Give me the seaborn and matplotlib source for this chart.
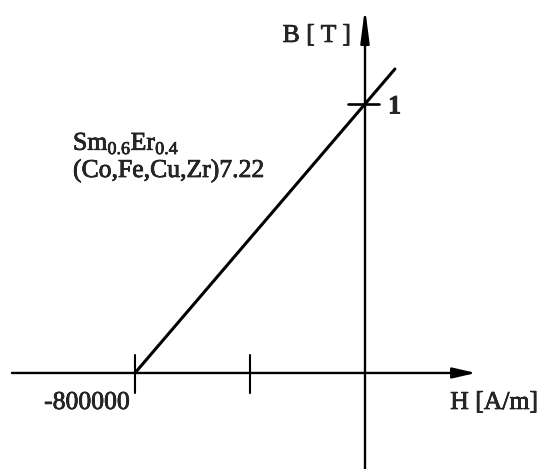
import matplotlib
matplotlib.use("Agg")
import matplotlib.pyplot as plt
import matplotlib.patheffects as pe
import seaborn as sns
import pandas as pd

# Demagnetisation line of Sm0.6Er0.4(Co,Fe,Cu,Zr)7.22
H_vals = [-800000, 104000]
B_vals = [0.0, 1.13]
x_ticks = [-800000, -400000]
x_tick_labels = ["-800000", ""]
y_ticks = [1]
y_tick_labels = ["1"]

sns.set_theme(style="white")
plt.rcParams["font.family"] = ["Liberation Serif", "DejaVu Serif"]
plt.rcParams["mathtext.fontset"] = "custom"
plt.rcParams["mathtext.rm"] = "Liberation Serif"

fig = plt.figure(figsize=(5.39, 4.69), dpi=100)
ax = fig.add_axes([0, 0, 1, 1])
ax.set_xlim(-1269565, 605217)
ax.set_ylim(-0.357, 1.3866)
ax.axis("off")

df = pd.DataFrame({"H": H_vals, "B": B_vals})
sns.lineplot(data=df, x="H", y="B", ax=ax, color="black", linewidth=2.2)

# coordinate axes with arrow heads
ax.annotate("", xy=(386000, 0), xytext=(-1228000, 0),
            arrowprops=dict(arrowstyle="-|>,head_length=1.4,head_width=0.32",
                            mutation_scale=10, color="black", lw=1.7,
                            shrinkA=0, shrinkB=0))
ax.annotate("", xy=(0, 1.357), xytext=(0, -0.357),
            arrowprops=dict(arrowstyle="-|>,head_length=2.0,head_width=0.26",
                            mutation_scale=10, color="black", lw=1.7,
                            shrinkA=0, shrinkB=0))

# tick marks
for xt in x_ticks:
    ax.plot([xt, xt], [-0.074, 0.067], color="black", lw=1.5)
for yt in y_ticks:
    ax.plot([-59000, 48700], [yt, yt], color="black", lw=1.9)

ink = [pe.withStroke(linewidth=0.5, foreground="black")]
fs = 18.5
for xt, lab in zip(x_ticks, x_tick_labels):
    if lab:
        ax.text(xt - 17400, -0.1115, lab, ha="right", va="center",
                fontsize=fs, path_effects=ink)
for yt, lab in zip(y_ticks, y_tick_labels):
    ax.text(80000, yt - 0.011, lab, ha="left", va="center", fontsize=19,
            fontweight="bold", path_effects=ink)

ax.text(-48700, 1.253, "B [ T ]", ha="right", va="center", fontsize=fs,
        path_effects=ink)
ax.text(601700, -0.1115, "H [A/m]", ha="right", va="center", fontsize=fs,
        path_effects=ink)

ax.text(-1015650, 0.829, r"Sm$_{\mathrm{0.6}}$Er$_{\mathrm{0.4}}$", ha="left",
        va="baseline", fontsize=fs, path_effects=ink)
ax.text(-1015650, 0.7286, "(Co,Fe,Cu,Zr)7.22", ha="left", va="baseline",
        fontsize=fs, path_effects=ink)

fig.savefig("out.png", dpi=100, facecolor="white")
